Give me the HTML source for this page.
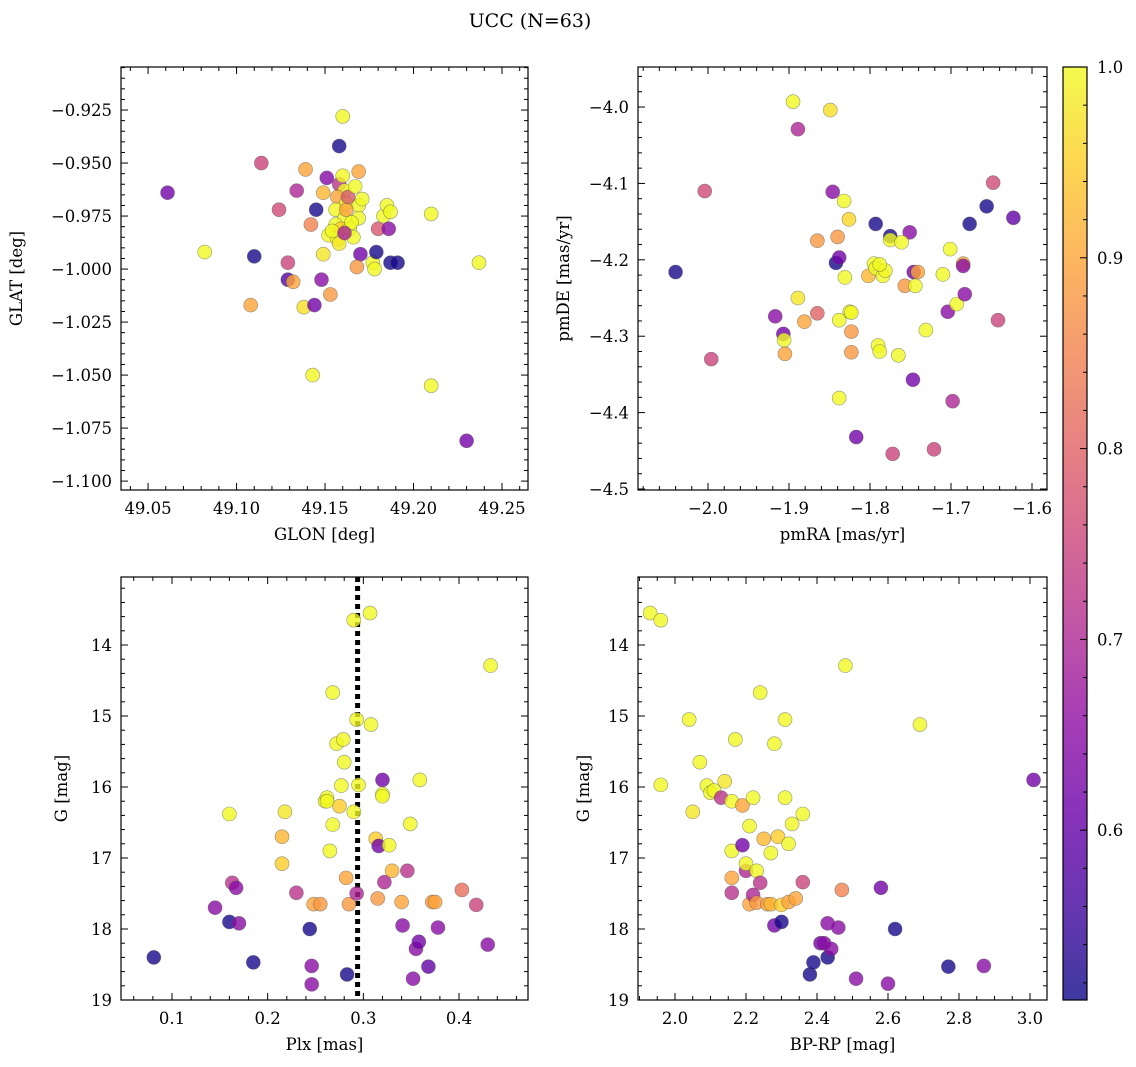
<!DOCTYPE html>
<html><head><meta charset="utf-8"><style>
html,body{margin:0;padding:0;background:#fff}
svg{display:block;font-family:"DejaVu Serif","Liberation Serif",serif}
</style></head><body>
<svg id="fig" width="1136" height="1067" viewBox="0 0 1136 1067">
<text x="530" y="27" font-size="19" text-anchor="middle">UCC (N=63)</text>
</svg>
<script>
// Panel 1: GLON / GLAT
const glon=[49.061,49.082,49.108,49.110,49.114,49.124,49.129,49.129,49.132,49.134,49.138,49.139,49.142,49.144,49.143,49.145,49.148,49.149,49.149,49.151,49.153,49.152,49.158,49.160,49.158,49.160,49.161,49.157,49.162,49.156,49.161,49.156,49.159,49.164,49.166,49.157,49.158,49.169,49.169,49.169,49.170,49.168,49.177,49.178,49.179,49.180,49.183,49.185,49.186,49.187,49.187,49.191,49.210,49.210,49.237,49.230,49.162,49.165,49.154,49.161,49.171,49.163,49.167];
const glat=[-0.964,-0.992,-1.017,-0.994,-0.950,-0.972,-0.997,-1.005,-1.006,-0.963,-1.018,-0.953,-0.979,-1.017,-1.050,-0.972,-1.005,-0.964,-0.993,-0.957,-1.012,-0.984,-0.942,-0.928,-0.960,-0.956,-0.963,-0.966,-0.969,-0.972,-0.976,-0.979,-0.981,-0.981,-0.985,-0.986,-0.988,-0.954,-0.970,-0.976,-0.993,-0.999,-0.997,-1.000,-0.992,-0.981,-0.975,-0.970,-0.981,-0.997,-0.973,-0.997,-0.974,-1.055,-0.997,-1.081,-0.972,-0.978,-0.982,-0.983,-0.967,-0.966,-0.961];
const prob1=[.62,1,.9,.52,.75,.76,.75,.58,.9,.7,.97,.9,.85,.62,1,.52,.65,.92,.98,.64,.88,1,.52,1,.72,1,1,.9,1,1,1,1,.95,1,1,1,.98,.9,1,1,.62,.88,1,1,.52,.78,1,1,.65,.52,1,.52,1,1,1,.62,.9,1,1,.7,1,.78,1];
// Panel 2: pmRA / pmDE
const pmra=[-2.040,-2.004,-1.996,-1.917,-1.907,-1.906,-1.905,-1.895,-1.889,-1.889,-1.881,-1.865,-1.865,-1.849,-1.846,-1.842,-1.840,-1.838,-1.838,-1.838,-1.832,-1.831,-1.826,-1.825,-1.823,-1.823,-1.823,-1.817,-1.802,-1.793,-1.795,-1.793,-1.790,-1.788,-1.784,-1.781,-1.775,-1.775,-1.772,-1.765,-1.757,-1.751,-1.747,-1.746,-1.744,-1.741,-1.731,-1.721,-1.710,-1.704,-1.701,-1.698,-1.693,-1.685,-1.685,-1.683,-1.677,-1.656,-1.648,-1.642,-1.623,-1.788,-1.761];
const pmde=[-4.216,-4.110,-4.330,-4.274,-4.297,-4.305,-4.323,-3.993,-4.029,-4.250,-4.281,-4.175,-4.270,-4.004,-4.111,-4.204,-4.170,-4.197,-4.279,-4.381,-4.123,-4.223,-4.147,-4.268,-4.294,-4.321,-4.269,-4.432,-4.221,-4.153,-4.205,-4.211,-4.312,-4.320,-4.221,-4.214,-4.169,-4.174,-4.454,-4.325,-4.234,-4.164,-4.357,-4.216,-4.234,-4.216,-4.292,-4.448,-4.219,-4.268,-4.186,-4.385,-4.258,-4.205,-4.208,-4.245,-4.153,-4.130,-4.099,-4.279,-4.145,-4.206,-4.177];
const prob2=[.52,.76,.75,.65,.62,1,.9,1,.7,.98,.9,.88,.8,.97,.65,.52,.88,.62,1,1,1,1,.96,1,.88,.88,1,.62,.92,.52,1,1,1,1,1,1,.52,1,.75,1,.88,.65,.62,.62,1,.9,1,.75,1,.65,1,.7,1,.9,.65,.65,.52,.52,.76,.75,.6,1,1];
// Panel 3: Plx / G
const plx=[0.081,0.145,0.160,0.160,0.163,0.167,0.170,0.185,0.215,0.215,0.218,0.230,0.244,0.246,0.246,0.248,0.255,0.260,0.262,0.265,0.268,0.268,0.272,0.275,0.277,0.279,0.280,0.282,0.283,0.285,0.290,0.293,0.293,0.295,0.307,0.308,0.313,0.315,0.316,0.320,0.320,0.320,0.322,0.327,0.330,0.340,0.341,0.346,0.349,0.352,0.355,0.358,0.359,0.368,0.372,0.375,0.378,0.403,0.418,0.430,0.433,0.290,0.262];
const gmag3=[18.40,17.70,17.90,16.38,17.35,17.42,17.92,18.47,17.08,16.70,16.35,17.49,18.00,18.52,18.78,17.65,17.65,16.20,16.15,16.90,14.67,16.53,15.39,16.27,15.98,15.33,15.65,17.28,18.64,17.65,13.65,15.05,17.50,15.97,13.55,15.12,16.73,17.57,16.83,15.90,16.10,16.13,17.34,16.82,17.18,17.62,17.95,17.18,16.52,18.70,18.28,18.18,15.90,18.53,17.62,17.62,17.98,17.45,17.66,18.22,14.29,16.35,16.20];
const prob3=[.52,.65,.52,1,.72,.65,.65,.52,.95,.92,.98,.72,.52,.65,.65,.9,.88,1,1,1,1,1,1,.95,1,1,1,.9,.52,.88,1,1,.7,1,1,1,.95,.88,.62,.62,1,1,.7,1,.92,.9,.65,.72,1,.65,.65,.62,1,.6,.88,.9,.65,.82,.75,.65,1,1,1];
const plxLine=[0.294];
// Panel 4: BP-RP / G
const bprp=[1.93,1.96,1.96,2.04,2.05,2.07,2.09,2.10,2.11,2.13,2.14,2.16,2.16,2.16,2.16,2.17,2.19,2.19,2.20,2.20,2.21,2.21,2.22,2.22,2.23,2.23,2.24,2.24,2.25,2.26,2.27,2.28,2.28,2.29,2.30,2.30,2.31,2.31,2.32,2.32,2.33,2.34,2.36,2.36,2.38,2.39,2.41,2.42,2.43,2.43,2.44,2.46,2.47,2.48,2.51,2.58,2.60,2.62,2.69,2.77,2.87,3.01,2.27];
const gmag4=[13.55,13.65,15.97,15.05,16.35,15.65,15.98,16.08,16.05,16.15,15.92,16.20,16.90,17.28,17.49,15.33,16.26,16.82,17.18,17.08,16.55,17.65,16.15,17.52,17.63,17.18,14.67,17.35,16.73,17.65,17.65,17.95,15.39,16.70,17.66,17.90,15.05,16.15,16.80,17.62,16.52,17.57,17.34,16.38,18.64,18.47,18.20,18.20,17.92,18.40,18.28,17.98,17.45,14.29,18.70,17.42,18.77,18.00,15.12,18.53,18.52,15.90,16.93];
const prob4=[1,1,1,1,.98,1,1,1,1,.72,.98,1,1,.9,.72,1,.9,.62,.7,1,1,.9,1,.7,.88,1,1,.72,.92,.9,.92,.62,1,.95,.95,.52,1,1,1,.9,1,.9,.75,1,.52,.52,.62,.65,.65,.52,.65,.65,.85,1,.65,.62,.65,.52,1,.52,.65,.62,1];
const cbTicks=[0.6,0.7,0.8,0.9,1.0];
const VMIN=0.511, VMAX=1.0;

const NS="http://www.w3.org/2000/svg";
const fig=document.getElementById('fig');
const FS=16.5;
function mk(tag,attrs,parent){const e=document.createElementNS(NS,tag);for(const k in attrs)e.setAttribute(k,attrs[k]);(parent||fig).appendChild(e);return e;}
const stops=[[13,8,135],[65,4,157],[106,0,168],[143,13,164],[177,42,144],[204,71,120],[225,100,98],[242,132,75],[252,166,54],[252,206,37],[240,249,33]];
function plasma(v){let t=(v-VMIN)/(VMAX-VMIN);t=Math.max(0,Math.min(1,t))*10;const i=Math.min(9,Math.floor(t)),f=t-i;const a=stops[i],b=stops[i+1];return `rgb(${a.map((c,j)=>Math.round(c+(b[j]-c)*f)).join(',')})`;}
function fmt(v,d){return (v<0?'\u2212':'')+Math.abs(v).toFixed(d);}

function panel(o){
  const {L,T,R,B,x0,x1,y0,y1,name}=o;
  const sx=v=>L+(v-x0)/(x1-x0)*(R-L);
  const sy=v=>T+(v-y0)/(y1-y0)*(B-T);
  const g=mk('g',{});
  
  
  const clip=mk('clipPath',{id:'c'+name},g);mk('rect',{x:L,y:T,width:R-L,height:B-T},clip);
  const pts=mk('g',{'clip-path':`url(#c${name})`},g);
  if(o.vline){const l=mk('line',{x1:sx(o.vline),x2:sx(o.vline),y1:T,y2:B,stroke:'#000','stroke-width':5,'stroke-dasharray':'5,4'},pts);
    }
  o.xs.forEach((xv,i)=>{const c=mk('circle',{cx:sx(xv),cy:sy(o.ys[i]),r:7,fill:plasma(o.cs[i]),'fill-opacity':0.8,stroke:'#555','stroke-opacity':0.6,'stroke-width':0.6},pts);
    });
  mk('rect',{x:L,y:T,width:R-L,height:B-T,fill:'none',stroke:'#000','stroke-width':1.2},g);
  const lo=Math.min(x0,x1),hi=Math.max(x0,x1);
  for(let k=Math.ceil(lo/o.xmin-1e-6);k*o.xmin<=hi+1e-9;k++){const v=k*o.xmin;const major=Math.abs(v/o.xmaj-Math.round(v/o.xmaj))<1e-6;const len=major?7:4;const X=sx(v);
    mk('line',{x1:X,x2:X,y1:B,y2:B-len,stroke:'#000','stroke-width':1},g);mk('line',{x1:X,x2:X,y1:T,y2:T+len,stroke:'#000','stroke-width':1},g);
    if(major){const t=mk('text',{x:X,y:B+24,'font-size':FS,'text-anchor':'middle'},g);t.textContent=fmt(v,o.xd);}}
  const ylo=Math.min(y0,y1),yhi=Math.max(y0,y1);
  for(let k=Math.ceil(ylo/o.ymin-1e-6);k*o.ymin<=yhi+1e-9;k++){const v=k*o.ymin;const major=Math.abs(v/o.ymaj-Math.round(v/o.ymaj))<1e-6;const len=major?7:4;const Y=sy(v);
    mk('line',{x1:L,x2:L+len,y1:Y,y2:Y,stroke:'#000','stroke-width':1},g);mk('line',{x1:R,x2:R-len,y1:Y,y2:Y,stroke:'#000','stroke-width':1},g);
    if(major){const t=mk('text',{x:L-9,y:Y+6,'font-size':FS,'text-anchor':'end'},g);t.textContent=fmt(v,o.yd);}}
  const xl=mk('text',{x:(L+R)/2,y:B+50,'font-size':FS,'text-anchor':'middle'},g);xl.textContent=o.xlabel;
  
  const yl=mk('text',{x:o.ylx,y:(T+B)/2,'font-size':FS,'text-anchor':'middle',transform:`rotate(-90 ${o.ylx} ${(T+B)/2})`},g);yl.textContent=o.ylabel;
  
}
panel({name:'glon-glat-panel',L:121,T:67,R:528,B:490,x0:49.0347,x1:49.2647,y0:-0.9047,y1:-1.1042,xmaj:0.05,xmin:0.01,ymaj:0.025,ymin:0.005,xd:2,yd:3,xs:glon,ys:glat,cs:prob1,xlabel:'GLON [deg]',ylabel:'GLAT [deg]',ylx:22});
panel({name:'pm-panel',L:638,T:67,R:1047,B:490,x0:-2.0864,x1:-1.5815,y0:-3.9476,y1:-4.5013,xmaj:0.1,xmin:0.02,ymaj:0.1,ymin:0.02,xd:1,yd:1,xs:pmra,ys:pmde,cs:prob2,xlabel:'pmRA [mas/yr]',ylabel:'pmDE [mas/yr]',ylx:569});
panel({name:'plx-g-panel',L:121,T:577,R:528,B:1000,x0:0.0467,x1:0.4721,y0:13.042,y1:19.0,xmaj:0.1,xmin:0.02,ymaj:1,ymin:0.2,xd:1,yd:0,xs:plx,ys:gmag3,cs:prob3,xlabel:'Plx [mas]',ylabel:'G [mag]',ylx:67,vline:plxLine[0]});
panel({name:'cmd-panel',L:638,T:577,R:1047,B:1000,x0:1.8958,x1:3.0479,y0:13.042,y1:19.0,xmaj:0.2,xmin:0.05,ymaj:1,ymin:0.2,xd:1,yd:0,xs:bprp,ys:gmag4,cs:prob4,xlabel:'BP-RP [mag]',ylabel:'G [mag]',ylx:589});

const cb=mk('g',{});


const CL=1063,CR=1087,CT=67,CB=1000;
const defs=mk('defs',{},cb);const lg=mk('linearGradient',{id:'pl',x1:0,y1:1,x2:0,y2:0},defs);
stops.forEach((s,i)=>{mk('stop',{offset:i/10,'stop-color':`rgb(${s.join(',')})`,'stop-opacity':0.8},lg);});
mk('rect',{x:CL,y:CT,width:CR-CL,height:CB-CT,fill:'url(#pl)',stroke:'#000','stroke-width':1.2},cb);
const cy=v=>CB-(v-VMIN)/(VMAX-VMIN)*(CB-CT);
for(let k=26;k<=50;k++){const v=k*0.02;if(v<VMIN)continue;const major=k%5===0;const Y=cy(v);
  mk('line',{x1:CR,x2:CR-(major?7:4),y1:Y,y2:Y,stroke:'#000','stroke-width':1},cb);}
cbTicks.forEach(v=>{const t=mk('text',{x:CR+10,y:cy(v)+6,'font-size':FS},cb);t.textContent=v.toFixed(1);
  });
</script>
</body></html>
